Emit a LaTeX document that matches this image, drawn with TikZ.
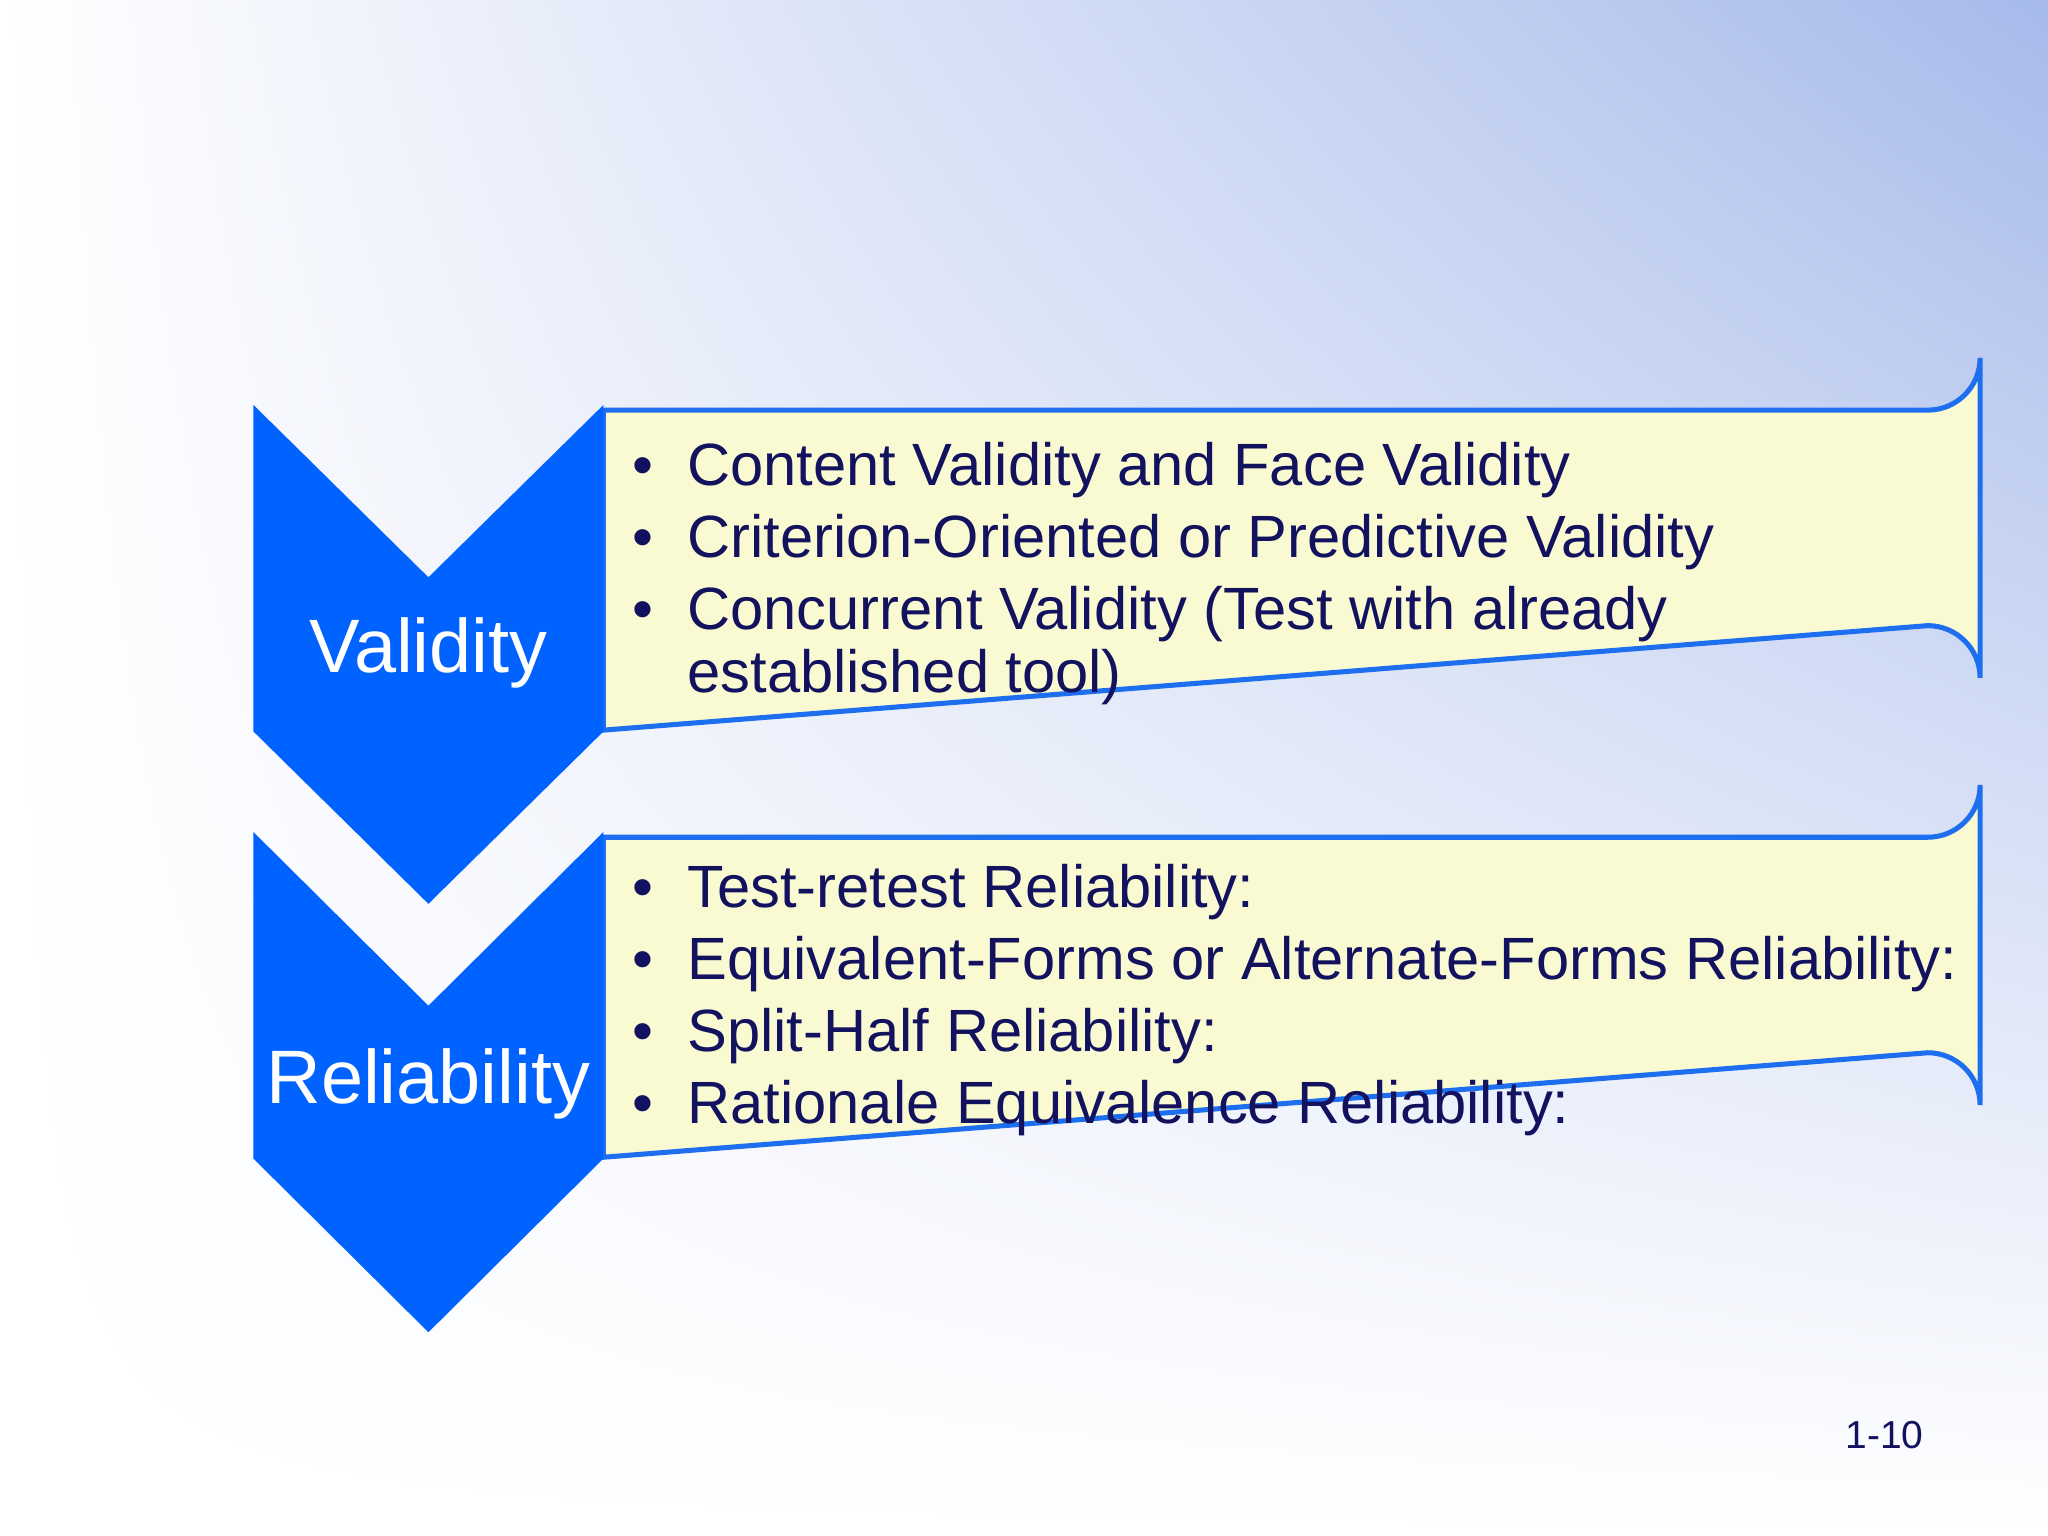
\documentclass[tikz,border=0pt]{standalone}
\usepackage{fontspec}
\setmainfont{Liberation Sans}
\usetikzlibrary{shadings}
\definecolor{chev}{HTML}{0062FF}
\definecolor{boxfill}{HTML}{FAFAD2}
\definecolor{boxline}{HTML}{1E6FF0}
\definecolor{navy}{HTML}{12125E}
\definecolor{bgblue}{HTML}{A6BAEA}
\tikzset{
  chevron/.style={fill=chev, draw=none},
  itembox/.style={fill=boxfill, draw=boxline, line width=2.2pt},
  item/.style={anchor=base west, text=navy, font=\fontsize{26}{30}\selectfont, inner sep=0pt},
  bul/.style={anchor=base west, text=navy, font=\fontsize{26}{30}\selectfont, inner sep=0pt},
  head/.style={text=white, font=\fontsize{33}{38}\selectfont, inner sep=0pt}
}
\begin{document}
\begin{tikzpicture}[x=0.02cm,y=-0.02cm]
\useasboundingbox (0,0) rectangle (1568,1176);
\shade[upper right=bgblue, upper left=white, lower left=white, lower right=white] (0,0) rectangle (1568,1176);
% boxes
\draw[itembox] (462,314) -- (1476,314) arc[start angle=90,end angle=0,radius=40] -- (1516,519) arc[start angle=0,end angle=-90,radius=40] -- (462,559) -- cycle;
\draw[itembox] (462,641) -- (1476,641) arc[start angle=90,end angle=0,radius=40] -- (1516,846) arc[start angle=0,end angle=-90,radius=40] -- (462,886) -- cycle;
% chevrons
\fill[chevron] (194,310) -- (328,442) -- (462,310) -- (462,560) -- (328,692) -- (194,560) -- cycle;
\fill[chevron] (194,637) -- (328,770) -- (462,637) -- (462,887) -- (328,1020) -- (194,887) -- cycle;
\node[head] (v) at (328,500) {Validity};
\node[head] (r) at (328,830) {Reliability};
% items
\foreach \y/\t [count=\i] in {372/Content Validity and Face Validity, 427/Criterion-Oriented or Predictive Validity, 482/Concurrent Validity (Test with already}{
  \node[bul] (vb\i) at (484,\y) {•};
  \node[item] (vi\i) at (526,\y) {\t};
}
\node[item] (vi4) at (526,530) {established tool)};
\foreach \y/\t [count=\i] in {695/Test-retest Reliability:, 750/Equivalent-Forms or Alternate-Forms Reliability:, 805/Split-Half Reliability:, 860/Rationale Equivalence Reliability:}{
  \node[bul] (rb\i) at (484,\y) {•};
  \node[item] (ri\i) at (526,\y) {\t};
}
\node[anchor=base east, text=navy, font=\fontsize{17}{20}\selectfont, inner sep=0pt] (pg) at (1473,1109) {1-10};
\end{tikzpicture}
\end{document}
